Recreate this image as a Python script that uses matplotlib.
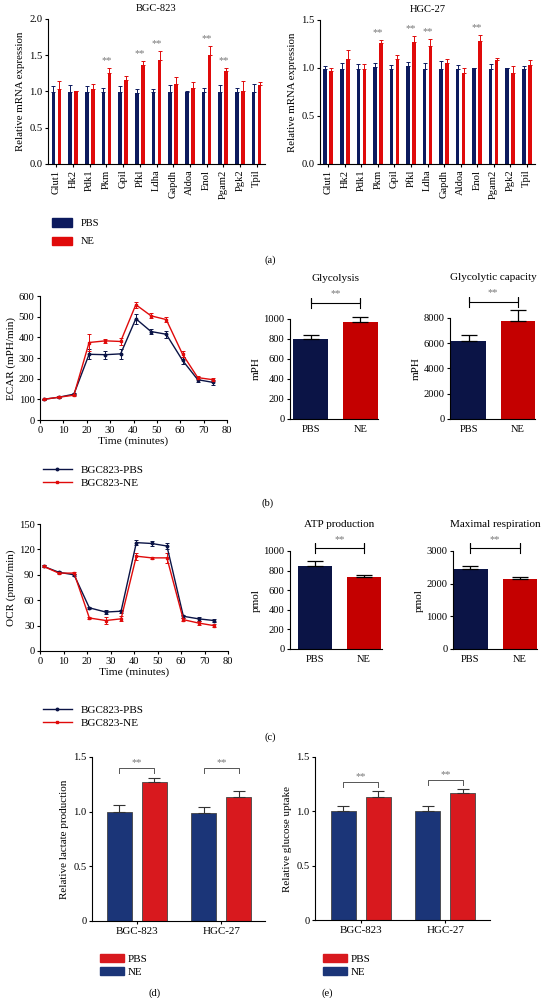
import matplotlib
matplotlib.use("Agg")
import matplotlib.pyplot as plt
import numpy as np
from matplotlib.patches import Patch
from matplotlib.lines import Line2D

#################################################################
# DATOS
#################################################################

genes = ["Glut1", "Hk2", "Pdk1", "Pkm", "Gpil", "Pfkl", "Ldha", "Gapdh",
         "Aldoa", "Enol", "Pgam2", "Pgk2", "Tpil"]

bgc_pbs = [0.99, 0.99, 0.99, 0.99, 0.99, 0.98, 0.99, 0.99, 0.99, 0.99, 0.99, 0.99, 0.99]
bgc_pbs_err = [0.08, 0.10, 0.08, 0.06, 0.09, 0.06, 0.05, 0.10, 0.01, 0.06, 0.10, 0.06, 0.12]
bgc_ne = [1.04, 1.00, 1.04, 1.25, 1.16, 1.36, 1.43, 1.11, 1.05, 1.51, 1.28, 1.01, 1.09]
bgc_ne_err = [0.10, 0.00, 0.06, 0.08, 0.06, 0.06, 0.13, 0.09, 0.08, 0.12, 0.05, 0.14, 0.04]
bgc_sig = ["", "", "", "**", "", "**", "**", "", "", "**", "**", "", ""]

hgc_pbs = [0.99, 0.99, 0.99, 1.01, 0.99, 1.02, 0.99, 0.99, 0.99, 1.00, 0.99, 1.00, 0.99]
hgc_pbs_err = [0.03, 0.06, 0.05, 0.04, 0.04, 0.04, 0.06, 0.08, 0.04, 0.00, 0.05, 0.00, 0.03]
hgc_ne = [0.97, 1.09, 0.99, 1.26, 1.09, 1.27, 1.23, 1.05, 0.95, 1.28, 1.08, 0.95, 1.03]
hgc_ne_err = [0.03, 0.10, 0.05, 0.03, 0.05, 0.06, 0.07, 0.04, 0.05, 0.06, 0.02, 0.07, 0.05]
hgc_sig = ["", "", "", "**", "", "**", "**", "", "", "**", "", "", ""]

tiempos = [1.5, 8, 14.5, 21, 28, 34.5, 41, 47.5, 54, 61, 67.5, 74]

ecar_pbs = [100, 110, 125, 318, 316, 320, 490, 428, 415, 288, 195, 182]
ecar_pbs_err = [4, 5, 5, 25, 20, 25, 25, 12, 18, 15, 12, 12]
ecar_ne = [100, 110, 120, 375, 383, 380, 558, 504, 486, 318, 205, 195]
ecar_ne_err = [4, 5, 5, 40, 10, 15, 15, 12, 12, 15, 8, 8]

ocr_pbs = [100, 93, 90, 51, 46, 47, 128, 127, 124, 41, 38, 36]
ocr_pbs_err = [1, 1, 1, 1, 2, 2, 3, 3, 4, 2, 2, 2]
ocr_ne = [100, 92, 92, 39, 36, 38, 112, 110, 110, 37, 33, 30]
ocr_ne_err = [1, 1, 1, 1, 4, 3, 4, 1, 6, 2, 2, 2]

grupos = ["PBS", "NE"]
glycolysis = [800, 965]
glycolysis_err = [40, 50]
glyc_capacity = [6200, 7800]
glyc_capacity_err = [450, 800]
atp = [850, 730]
atp_err = [50, 30]
max_resp = [2450, 2150]
max_resp_err = [100, 50]

lineas = ["BGC-823", "HGC-27"]
lactate_ne = [1.0, 0.99]
lactate_ne_err = [0.06, 0.05]
lactate_pbs = [1.27, 1.13]
lactate_pbs_err = [0.04, 0.06]
lactate_corchete = [1.40, 1.40]
glucose_ne = [1.0, 1.0]
glucose_ne_err = [0.05, 0.05]
glucose_pbs = [1.13, 1.17]
glucose_pbs_err = [0.06, 0.04]
glucose_corchete = [1.27, 1.29]

#################################################################
# ESTILO
#################################################################

plt.rcParams["font.family"] = ["Liberation Serif", "DejaVu Serif"]
plt.rcParams["axes.linewidth"] = 0.8
plt.rcParams["xtick.major.width"] = 0.8
plt.rcParams["ytick.major.width"] = 0.8
plt.rcParams["xtick.major.size"] = 2.5
plt.rcParams["ytick.major.size"] = 2.5

W, H = 544, 998
NAVY = "#0c1a5e"
RED = "#e00a0a"
NAVY2 = "#0b1446"
RED2 = "#c40000"
BLUE3 = "#1b3578"
RED3 = "#d8191e"
GRIS = "#777777"
FS = 7.6

fig = plt.figure(figsize=(W / 100, H / 100), dpi=100)


def ejes(x0, y_top, x1, y_bot):
    return fig.add_axes([x0 / W, 1 - y_bot / H, (x1 - x0) / W, (y_bot - y_top) / H])


def fig_text(x, y, s, **kw):
    fig.text(x / W, 1 - y / H, s, **kw)


def limpiar(ax):
    ax.spines["top"].set_visible(False)
    ax.spines["right"].set_visible(False)
    ax.tick_params(labelsize=FS, pad=1.5)
    for c in ax.containers:
        eb = getattr(c, "errorbar", None)
        if eb is not None:
            for a in list(eb.lines[1]) + list(eb.lines[2]):
                a.set_clip_on(False)


#################################################################
# (a) qPCR
#################################################################

def panel_genes(ax, pbs, pbs_err, ne, ne_err, sig, ymax, ticks, titulo):
    x = np.arange(len(genes))
    w = 0.22
    ax.bar(x - 0.18, pbs, w, color=NAVY, yerr=[np.zeros(len(x)), pbs_err],
           error_kw=dict(ecolor=NAVY, elinewidth=0.7, capsize=1.2, capthick=0.7))
    ax.bar(x + 0.18, ne, w, color=RED, yerr=[np.zeros(len(x)), ne_err],
           error_kw=dict(ecolor=RED, elinewidth=0.7, capsize=1.2, capthick=0.7))
    for i, s in enumerate(sig):
        if s:
            ax.text(x[i], ne[i] + ne_err[i] + 0.02 * ymax, s, ha="center", va="bottom",
                    fontsize=7.5, color=GRIS)
    ax.set_xlim(-0.5, 12.5)
    ax.set_ylim(0, ymax)
    ax.set_yticks(ticks)
    ax.set_yticklabels([f"{t:.1f}" for t in ticks])
    ax.set_xticks(x)
    ax.set_xticklabels(genes, rotation=90)
    limpiar(ax)
    ax.set_ylabel("Relative mRNA expression", fontsize=FS + 0.2, labelpad=3)
    ax.set_title(titulo, fontsize=FS, pad=6)


ax1 = ejes(48, 19, 265, 164)
panel_genes(ax1, bgc_pbs, bgc_pbs_err, bgc_ne, bgc_ne_err, bgc_sig, 2.0,
            [0.0, 0.5, 1.0, 1.5, 2.0], "BGC-823")
ax2 = ejes(320, 20, 535, 164)
panel_genes(ax2, hgc_pbs, hgc_pbs_err, hgc_ne, hgc_ne_err, hgc_sig, 1.5,
            [0.0, 0.5, 1.0, 1.5], "HGC-27")

ax1.legend([Patch(color=NAVY), Patch(color=RED)], grupos, loc="upper left",
           bbox_to_anchor=(42 / W, 1 - 209 / H), bbox_transform=fig.transFigure,
           frameon=False, fontsize=FS, handlelength=1.9, handleheight=0.8,
           labelspacing=0.8, handletextpad=0.9)
fig_text(270, 260, "(a)", fontsize=FS, ha="center", va="center")

#################################################################
# (b) (c) Seahorse
#################################################################

def panel_curva(ax, pbs, pbs_err, ne, ne_err, ymax, ticks, ylabel, y_leg):
    ax.errorbar(tiempos, pbs, yerr=pbs_err, color=NAVY2, marker="o", ms=1.8,
                lw=1.0, elinewidth=0.7, capsize=1.2, capthick=0.7)
    ax.errorbar(tiempos, ne, yerr=ne_err, color=RED, marker="s", ms=1.8,
                lw=1.0, elinewidth=0.7, capsize=1.2, capthick=0.7)
    ax.set_xlim(0, 80)
    ax.set_ylim(0, ymax)
    ax.set_xticks(range(0, 81, 10))
    ax.set_yticks(ticks)
    limpiar(ax)
    ax.set_xlabel("Time (minutes)", fontsize=FS + 0.6, labelpad=1)
    ax.set_ylabel(ylabel, fontsize=FS + 0.4, labelpad=2)
    h = [Line2D([], [], color=NAVY2, marker="o", ms=1.8, lw=1.0),
         Line2D([], [], color=RED, marker="s", ms=1.8, lw=1.0)]
    ax.legend(h, ["BGC823-PBS", "BGC823-NE"], loc="upper left",
              bbox_to_anchor=(33 / W, 1 - y_leg / H),
              bbox_transform=fig.transFigure, frameon=False, fontsize=FS + 0.4,
              handlelength=2.6, labelspacing=0.3, handletextpad=0.8)


def panel_barras(ax, vals, errs, ymax, ticks, titulo, xlim, ylabel, corchete):
    x = np.arange(2)
    ax.bar(x, vals, 0.7, color=[NAVY2, RED2], yerr=[[0, 0], errs],
           error_kw=dict(ecolor="black", elinewidth=0.9, capsize=6, capthick=0.9))
    ax.set_xlim(*xlim)
    ax.set_ylim(0, ymax)
    ax.set_yticks(ticks)
    ax.set_xticks(x)
    ax.set_xticklabels(grupos)
    ax.tick_params(axis="x", length=0)
    limpiar(ax)
    ax.tick_params(axis="x", pad=4)
    ax.set_ylabel(ylabel, fontsize=FS + 0.4, labelpad=2)
    yb = ymax * corchete
    d = ymax * 0.05
    ax.plot([0, 0, 0, 1, 1, 1], [yb - d, yb + d, yb, yb, yb + d, yb - d],
            color="black", lw=0.8, clip_on=False)
    ax.text(0.5, yb + ymax * 0.09, "**", ha="center", va="center", fontsize=7.5,
            color=GRIS)
    ax.text(0.5, yb + ymax * 0.24, titulo, ha="center", va="center",
            fontsize=FS + 0.4)


ax3 = ejes(40, 296, 227, 420)
panel_curva(ax3, ecar_pbs, ecar_pbs_err, ecar_ne, ecar_ne_err, 600,
            range(0, 601, 100), "ECAR (mPH/min)", 455)
ax4 = ejes(290, 319, 378, 419)
panel_barras(ax4, glycolysis, glycolysis_err, 1000, range(0, 1001, 200),
             "Glycolysis", (-0.42, 1.36), "mPH", 1.16)
ax5 = ejes(450, 318, 535, 419)
panel_barras(ax5, glyc_capacity, glyc_capacity_err, 8000, range(0, 8001, 2000),
             "Glycolytic capacity", (-0.38, 1.35), "mPH", 1.16)
fig_text(268, 503, "(b)", fontsize=FS, ha="center", va="center")

ax6 = ejes(40, 524, 228, 651)
panel_curva(ax6, ocr_pbs, ocr_pbs_err, ocr_ne, ocr_ne_err, 150,
            range(0, 151, 30), "OCR (pmol/min)", 695)
ax7 = ejes(290, 551, 382, 649)
panel_barras(ax7, atp, atp_err, 1000, range(0, 1001, 200), "ATP production",
             (-0.51, 1.37), "pmol", 1.03)
ax8 = ejes(453, 551, 537, 649)
panel_barras(ax8, max_resp, max_resp_err, 3000, range(0, 3001, 1000),
             "Maximal respiration", (-0.35, 1.345), "pmol", 1.03)
fig_text(270, 737, "(c)", fontsize=FS, ha="center", va="center")

#################################################################
# (d) (e) lactato y glucosa
#################################################################

def panel_lineas(ax, ne, ne_err, pbs, pbs_err, corchete, ylabel, xlim):
    x = np.arange(2)
    w = 0.296
    ax.bar(x - 0.207, ne, w, color=BLUE3, edgecolor="#444444", lw=0.6,
           yerr=[[0, 0], ne_err],
           error_kw=dict(ecolor="#333333", elinewidth=0.8, capsize=4, capthick=0.8))
    ax.bar(x + 0.207, pbs, w, color=RED3, edgecolor="#444444", lw=0.6,
           yerr=[[0, 0], pbs_err],
           error_kw=dict(ecolor="#333333", elinewidth=0.8, capsize=4, capthick=0.8))
    for i in x:
        yb = corchete[i]
        ax.plot([i - 0.207, i - 0.207, i + 0.207, i + 0.207],
                [yb - 0.05, yb, yb, yb - 0.05], color="#555555", lw=0.7)
        ax.text(i, yb + 0.01, "**", ha="center", va="bottom", fontsize=7.5, color=GRIS)
    ax.set_xlim(*xlim)
    ax.set_ylim(0, 1.5)
    ax.set_yticks([0, 0.5, 1.0, 1.5])
    ax.set_yticklabels(["0", "0.5", "1.0", "1.5"])
    ax.set_xticks(x)
    ax.set_xticklabels(lineas)
    limpiar(ax)
    ax.tick_params(axis="x", labelsize=FS + 0.3)
    ax.set_ylabel(ylabel, fontsize=FS + 0.4, labelpad=3)
    ax.legend([Patch(color=RED3), Patch(color=BLUE3)], grupos, loc="upper left",
              bbox_to_anchor=(ax.get_position().x0 - 2 / W, 1 - 944 / H),
              bbox_transform=fig.transFigure, frameon=False, fontsize=FS + 0.3,
              handlelength=2.2, handleheight=0.8, labelspacing=0.25,
              handletextpad=0.3)


ax9 = ejes(92, 757, 265, 921)
panel_lineas(ax9, lactate_ne, lactate_ne_err, lactate_pbs, lactate_pbs_err,
             lactate_corchete, "Relative lactate production", (-0.53, 1.515))
ax10 = ejes(315, 757, 490, 920)
panel_lineas(ax10, glucose_ne, glucose_ne_err, glucose_pbs, glucose_pbs_err,
             glucose_corchete, "Relative glucose uptake", (-0.544, 1.527))
fig_text(155, 993, "(d)", fontsize=FS, ha="center", va="center")
fig_text(327, 993, "(e)", fontsize=FS, ha="center", va="center")

fig.savefig("out.png", dpi=100)
